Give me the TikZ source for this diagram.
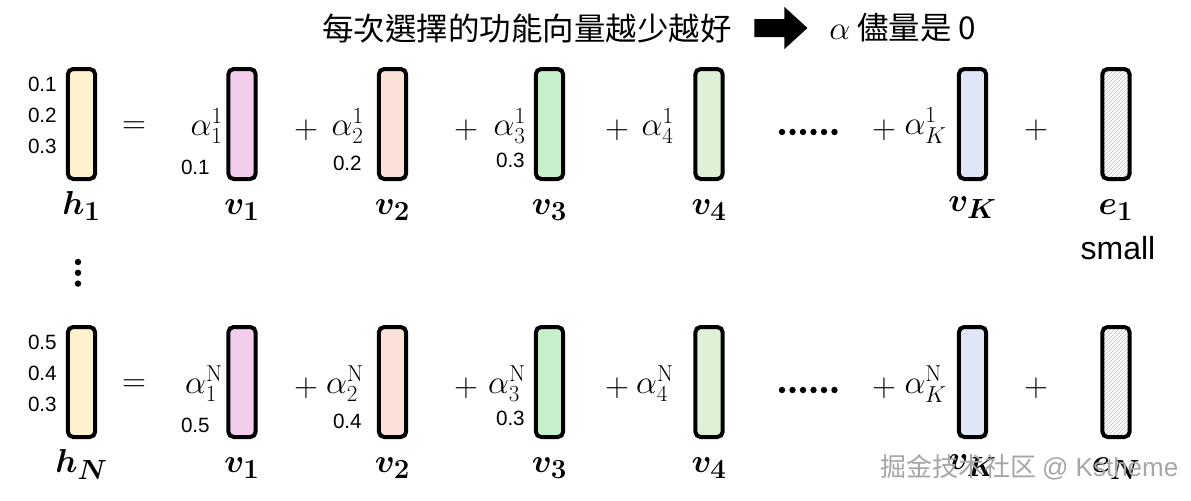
\documentclass[tikz,border=0pt]{standalone}
\usepackage[no-math]{fontspec}
\setmainfont{Liberation Sans}
\newfontfamily\cjktc{Noto Sans CJK TC}
\newfontfamily\cjksc{Noto Sans CJK SC}
\usepackage{amsmath}
\usetikzlibrary{positioning}
\usetikzlibrary{patterns}

\definecolor{hcol}{HTML}{FFF2CC}
\definecolor{vacol}{HTML}{F3CDEC}
\definecolor{vbcol}{HTML}{FCE1D8}
\definecolor{vccol}{HTML}{C8EFCB}
\definecolor{vdcol}{HTML}{DEF0D6}
\definecolor{vkcol}{HTML}{DEE6F7}

\begin{document}
\begin{tikzpicture}[x=0.75pt, y=-0.75pt,
		V/.style={draw, line width=3pt, rounded corners=4pt, fill=#1, minimum width=20.5pt, minimum height=82.5pt, inner sep=0pt},
		E/.style={V=white, pattern=north east lines, pattern color=gray!55},
		lab/.style={font=\fontsize{28}{30}\selectfont, inner sep=0pt},
		num/.style={font=\fontsize{15.5}{17}\selectfont, inner sep=0pt},
		coef/.style={font=\fontsize{26.5}{29}\selectfont, inner sep=0pt},
		sgn/.style={font=\fontsize{23}{25}\selectfont, inner sep=0pt}
		]
		\useasboundingbox (0,0) rectangle (1191,500);
		
		% title line
		\node [font=\cjktc\fontsize{23.6}{26}\selectfont, inner sep=0pt] (title) at (527,28) {每次選擇的功能向量越少越好};
		\node [font=\cjktc\fontsize{23.6}{26}\selectfont, inner sep=0pt, anchor=west] (tail) at (829,28) {$\alpha$ 儘量是 0};
		\coordinate (ar) at ([xshift=17pt]title.east);
		\fill (ar) ++(0,-9) -- ++(30,0) -- ++(0,-12) -- ++(23,21) -- ++(-23,21) -- ++(0,-12) -- ++(-30,0) -- cycle;
		
		% both rows
		\foreach \r/\y/\s/\p/\q/\u in {1/124/1/0.1/0.2/0.3, N/382/\mathrm{N}/0.5/0.4/0.3}{
			\node [V=hcol] (h\r) at (81.5,\y) {};
			\node [V=vacol] (v1\r) at (242,\y) {};
			\node [V=vbcol] (v2\r) at (392.5,\y) {};
			\node [V=vccol] (v3\r) at (549.5,\y) {};
			\node [V=vdcol] (v4\r) at (709,\y) {};
			\node [V=vkcol] (vK\r) at (972.5,\y) {};
			\node [E] (e\r) at (1116,\y) {};
			
			\node [num, anchor=east] (hp\r) at (57,\y-40) {\p};
			\node [num, anchor=east] (hq\r) at (57,\y-9) {\q};
			\node [num, anchor=east] (hu\r) at (57,\y+22) {\u};
			
			\node [sgn] (eq\r) at (134,\y+4) {$=$};
			\node [coef, anchor=east] (a1\r) at (223,\y+2) {$\alpha_1^{\s}$};
			\node [sgn] (s2\r) at (306,\y+6) {$+$};
			\node [coef, anchor=east] (a2\r) at (364,\y+2) {$\alpha_2^{\s}$};
			\node [sgn] (s3\r) at (466,\y+6) {$+$};
			\node [coef, anchor=east] (a3\r) at (526,\y+2) {$\alpha_3^{\s}$};
			\node [sgn] (s4\r) at (617,\y+6) {$+$};
			\node [coef, anchor=east] (a4\r) at (674,\y+2) {$\alpha_4^{\s}$};
			\node [sgn] (sK\r) at (884,\y+6) {$+$};
			\node [coef, anchor=east] (aK\r) at (947,\y+2) {$\alpha_K^{\s}$};
			\node [sgn] (sE\r) at (1036,\y+6) {$+$};
			
			\node [num, anchor=east] (c1\r) at (210,\y+43) {\p};
			\node [num, anchor=east] (c2\r) at (362,\y+39) {\q};
			\node [num, anchor=east] (c3\r) at (525,\y+36) {\u};
			
			\foreach \i in {0,...,5}{\fill (782+10.5*\i,\y+8) circle [radius=2.4pt];}
			
			\node [lab, anchor=base] (lh\r) at ([yshift=-25pt]h\r.south) {$\boldsymbol{h_\r}$};
			\node [lab, anchor=base] (lv1\r) at ([yshift=-25pt]v1\r.south) {$\boldsymbol{v_1}$};
			\node [lab, anchor=base] (lv2\r) at ([yshift=-25pt]v2\r.south) {$\boldsymbol{v_2}$};
			\node [lab, anchor=base] (lv3\r) at ([yshift=-25pt]v3\r.south) {$\boldsymbol{v_3}$};
			\node [lab, anchor=base] (lv4\r) at ([yshift=-25pt]v4\r.south) {$\boldsymbol{v_4}$};
			\node [lab, anchor=base] (lvK\r) at ([yshift=-23pt]vK\r.south) {$\boldsymbol{v_K}$};
			\node [lab, anchor=base] (le\r) at ([yshift=-25pt]e\r.south) {$\boldsymbol{e_\r}$};
		}
		\node [font=\fontsize{24}{26}\selectfont, inner sep=0pt] (small) at (1118,248) {small};
		
		% vertical dots
		\foreach \j in {0,1,2}{\fill (78,262+10.8*\j) circle [radius=2.4pt];}
		
		% watermark
		\node [text=gray!70, font=\fontsize{19.5}{22}\selectfont, inner sep=0pt, anchor=west] (mark) at (880,467) {\cjksc 掘金技术社区 \rmfamily @ Kstheme};
		
		\end{tikzpicture}
\end{document}
